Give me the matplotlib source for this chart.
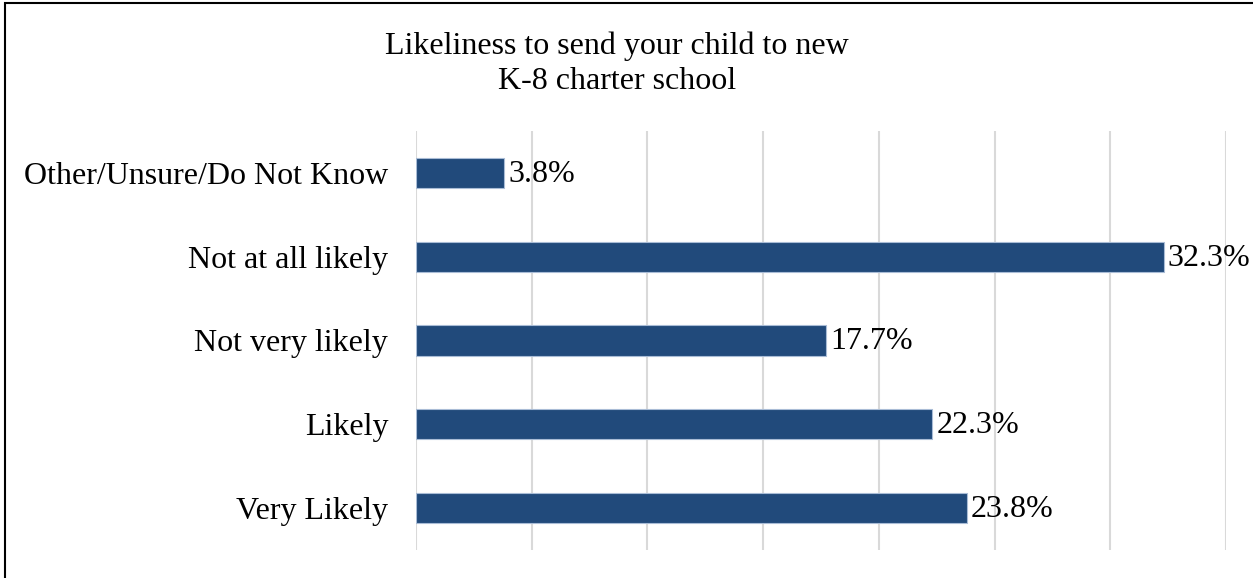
import matplotlib.pyplot as plt
from matplotlib.patches import Rectangle

plt.rcParams['font.family'] = ['Liberation Serif', 'DejaVu Serif']

categories = ["Very Likely", "Likely", "Not very likely", "Not at all likely",
              "Other/Unsure/Do Not Know"]
values = [23.8, 22.3, 17.7, 32.3, 3.8]
xticks = [0, 5, 10, 15, 20, 25, 30, 35]

fig = plt.figure(figsize=(12.53, 5.78), dpi=100)
ax = fig.add_axes([416/1253, 1-550/578, (1226-416)/1253, (550-131)/578])

pos = range(len(categories))
ax.barh(pos, values, height=0.36, color='#214a7b', edgecolor='#a9bcd6',
        linewidth=0.8, zorder=3)
for y, v in zip(pos, values):
    ax.annotate(f"{v}%", (v, y), xytext=(3, -1), textcoords='offset points',
                va='center', ha='left', fontsize=23, color='black')

ax.set_xlim(0, 35)
ax.set_ylim(-0.5, 4.5)
ax.set_xticks(xticks)
ax.set_xticklabels([])
ax.set_yticks(list(pos))
ax.set_yticklabels(categories, fontsize=23)
ax.tick_params(axis='y', length=0, pad=20)
ax.tick_params(axis='x', length=0)
ax.grid(axis='x', color='#d9d9d9', linewidth=1.5, zorder=0)
for s in ax.spines.values():
    s.set_visible(False)

fig.text(617/1253, 1-64/578, "Likeliness to send your child to new\nK-8 charter school",
         ha='center', va='center', fontsize=23, linespacing=1.28)

fig.patches.append(Rectangle((5/1253, -0.05), 1.1, 1-3/578+0.05,
                             transform=fig.transFigure, fill=False,
                             edgecolor='black', linewidth=1.5))

fig.savefig("out.png", dpi=100)
